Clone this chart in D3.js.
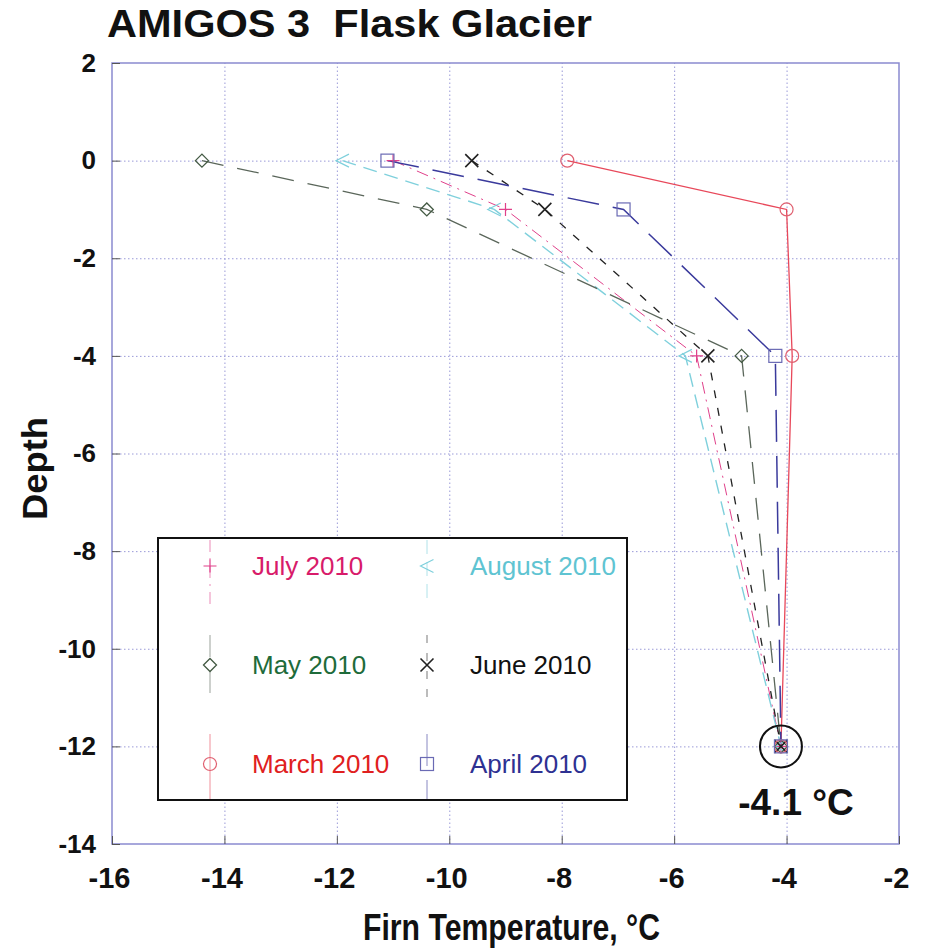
<!DOCTYPE html>
<html>
<head>
<meta charset="utf-8">
<script src="https://cdn.jsdelivr.net/npm/d3@7"></script>
<style>
  body { margin: 0; background: #fff; }
  svg text { font-family: "Liberation Sans", Arial, sans-serif; }
</style>
</head>
<body>
<svg id="chart" width="935" height="951"></svg>
<script>
// Data (depth in m, temperature in degC)
const depths = [0, -1, -4, -12];
const march = [-7.9, -4.0, -3.9, -4.1];
const april = [-11.1, -6.9, -4.2, -4.1];
const may = [-14.4, -10.4, -4.8, -4.1];
const june = [-9.6, -8.3, -5.4, -4.1];
const july = [-11.0, -9.0, -5.6, -4.1];
const august = [-11.9, -9.2, -5.8, -4.1];

const xTicks = [-16, -14, -12, -10, -8, -6, -4, -2];
const yTicks = [2, 0, -2, -4, -6, -8, -10, -12, -14];

// series styles
const series = [
  { name: 'July 2010', temps: july, color: '#e0408a', text: '#d81b6a', symbol: 'plus', dash: '12,6,2,6', width: 1 },
  { name: 'August 2010', temps: august, color: '#7fd0dc', text: '#5fc4d2', symbol: 'tri', dash: '14,8', width: 1.4 },
  { name: 'May 2010', temps: may, color: '#5a665a', text: '#1e6b3a', symbol: 'diamond', dash: '22,14', width: 1.3 },
  { name: 'June 2010', temps: june, color: '#222', text: '#111', symbol: 'cross', dash: '8,10', width: 1.3 },
  { name: 'March 2010', temps: march, color: '#e8485a', text: '#e02020', symbol: 'circle', dash: null, width: 1.3 },
  { name: 'April 2010', temps: april, color: '#3a3a9c', text: '#2e3192', symbol: 'square', dash: '32,14', width: 1.5 }
];
const markerColor = {
  plus: '#e0408a', tri: '#7fd0dc', diamond: '#445a44', cross: '#222', circle: '#e06070', square: '#6a6ab4'
};

const svg = d3.select('#chart');
const x = d3.scaleLinear().domain([-16, -2]).range([112, 899]);
const y = d3.scaleLinear().domain([-14, 2]).range([844, 63]);
const axisColor = '#8a8ad0';
const fmt = d => String(d); // plain hyphen minus like the original

// grid
svg.append('g')
  .attr('transform', `translate(0,${y(-14)})`)
  .call(d3.axisBottom(x).tickValues(xTicks.slice(1, -1)).tickSize(-(y(-14) - y(2))).tickFormat(''))
  .call(g => g.select('.domain').remove())
  .call(g => g.selectAll('line').attr('stroke', '#9a9ad8').attr('stroke-dasharray', '1.5,2.5'));
svg.append('g')
  .attr('transform', `translate(${x(-16)},0)`)
  .call(d3.axisLeft(y).tickValues(yTicks.slice(1, -1)).tickSize(-(x(-2) - x(-16))).tickFormat(''))
  .call(g => g.select('.domain').remove())
  .call(g => g.selectAll('line').attr('stroke', '#9a9ad8').attr('stroke-dasharray', '1.5,2.5'));

// frame
svg.append('rect')
  .attr('x', x(-16)).attr('y', y(2))
  .attr('width', x(-2) - x(-16)).attr('height', y(-14) - y(2))
  .attr('fill', 'none').attr('stroke', axisColor).attr('stroke-width', 1.5);

// inward ticks
svg.append('g')
  .attr('transform', `translate(0,${y(-14)})`)
  .call(d3.axisTop(x).tickValues(xTicks).tickSize(8).tickFormat(''))
  .call(g => g.select('.domain').remove())
  .call(g => g.selectAll('line').attr('stroke', '#555'));
svg.append('g')
  .attr('transform', `translate(${x(-16)},0)`)
  .call(d3.axisRight(y).tickValues(yTicks).tickSize(8).tickFormat(''))
  .call(g => g.select('.domain').remove())
  .call(g => g.selectAll('line').attr('stroke', '#555'));

// tick labels
svg.append('g')
  .attr('transform', `translate(0,${y(-14) + 20})`)
  .call(d3.axisBottom(x).tickValues(xTicks).tickSize(0).tickFormat(fmt))
  .call(g => g.select('.domain').remove())
  .call(g => g.selectAll('text')
    .attr('dx', -3)
    .attr('font-weight', 'bold').attr('font-size', 29).attr('fill', '#111'));
svg.append('g')
  .attr('transform', `translate(${x(-16) - 13},0)`)
  .call(d3.axisLeft(y).tickValues(yTicks).tickSize(0).tickFormat(fmt))
  .call(g => g.select('.domain').remove())
  .call(g => g.selectAll('text')
    .attr('font-weight', 'bold').attr('font-size', 26).attr('fill', '#111'));

// titles
svg.append('text').attr('x', 107).attr('y', 37)
  .style('white-space', 'pre')
  .attr('textLength', 485).attr('lengthAdjust', 'spacingAndGlyphs')
  .attr('font-weight', 'bold').attr('font-size', 38).attr('fill', '#111')
  .text('AMIGOS 3  Flask Glacier');
svg.append('text').attr('x', 363).attr('y', 940)
  .attr('textLength', 297).attr('lengthAdjust', 'spacingAndGlyphs')
  .attr('font-weight', 'bold').attr('font-size', 37).attr('fill', '#111')
  .text('Firn Temperature, °C');
svg.append('text')
  .attr('transform', `translate(47,520) rotate(-90)`)
  .attr('textLength', 103).attr('lengthAdjust', 'spacingAndGlyphs')
  .attr('font-weight', 'bold').attr('font-size', 35).attr('fill', '#111')
  .text('Depth');

// marker drawing
function drawMarker(g, sym, cx, cy, color) {
  const s = 6.5;
  if (sym === 'circle') {
    g.append('circle').attr('cx', cx).attr('cy', cy).attr('r', s).attr('fill', 'none').attr('stroke', color).attr('stroke-width', 1.2);
  } else if (sym === 'square') {
    g.append('rect').attr('x', cx - s).attr('y', cy - s).attr('width', 2 * s).attr('height', 2 * s).attr('fill', 'none').attr('stroke', color).attr('stroke-width', 1.2);
  } else if (sym === 'diamond') {
    g.append('path').attr('d', `M${cx - s},${cy}L${cx},${cy - s}L${cx + s},${cy}L${cx},${cy + s}Z`).attr('fill', 'none').attr('stroke', color).attr('stroke-width', 1.3);
  } else if (sym === 'cross') {
    g.append('path').attr('d', `M${cx - s},${cy - s}L${cx + s},${cy + s}M${cx - s},${cy + s}L${cx + s},${cy - s}`).attr('stroke', color).attr('stroke-width', 1.6);
  } else if (sym === 'plus') {
    g.append('path').attr('d', `M${cx - s},${cy}L${cx + s},${cy}M${cx},${cy - s}L${cx},${cy + s}`).attr('stroke', color).attr('stroke-width', 1.2);
  } else if (sym === 'tri') {
    g.append('path').attr('d', `M${cx + s},${cy - s}L${cx - s},${cy}L${cx + s},${cy + s}`).attr('fill', 'none').attr('stroke', color).attr('stroke-width', 1.2);
  }
}

// lines
const line = d3.line().x(d => x(d[0])).y(d => y(d[1]));
const plotG = svg.append('g');
series.forEach(s => {
  const pts = s.temps.map((t, i) => [t, depths[i]]);
  plotG.append('path').datum(pts)
    .attr('d', line)
    .attr('fill', 'none')
    .attr('stroke', s.color)
    .attr('stroke-width', s.width)
    .attr('stroke-dasharray', s.dash);
});
series.forEach(s => {
  s.temps.forEach((t, i) => drawMarker(plotG, s.symbol, x(t), y(depths[i]), markerColor[s.symbol]));
});

// legend
const legX = 158, legY = 538, legW = 469, legH = 262;
const lg = svg.append('g');
lg.append('rect').attr('x', legX).attr('y', legY).attr('width', legW).attr('height', legH)
  .attr('fill', '#fff').attr('stroke', '#111').attr('stroke-width', 2);
const rowY = [566, 665, 764];
const colMarkX = [210, 427];
const colTextX = [252, 470];
series.forEach((s, i) => {
  const r = Math.floor(i / 2), c = i % 2;
  const my = rowY[r];
  lg.append('line')
    .attr('x1', colMarkX[c]).attr('x2', colMarkX[c])
    .attr('y1', Math.max(legY + 2, my - 30)).attr('y2', Math.min(legY + legH - 1, my + 40))
    .attr('stroke', s.color).attr('stroke-width', 1).attr('opacity', 0.6)
    .attr('stroke-dasharray', s.dash);
  drawMarker(lg, s.symbol, colMarkX[c], my, markerColor[s.symbol]);
  lg.append('text').attr('x', colTextX[c]).attr('y', my + 9)
    .attr('font-size', 26).attr('fill', s.text).text(s.name);
});

// annotation of the common bottom value
svg.append('circle').attr('cx', x(-4.1)).attr('cy', y(-12))
  .attr('r', 21).attr('fill', 'none').attr('stroke', '#111').attr('stroke-width', 2);
svg.append('text').attr('x', 796).attr('y', 815).attr('text-anchor', 'middle')
  .attr('font-weight', 'bold').attr('font-size', 37).attr('fill', '#111')
  .text('-4.1 °C');
</script>
</body>
</html>
